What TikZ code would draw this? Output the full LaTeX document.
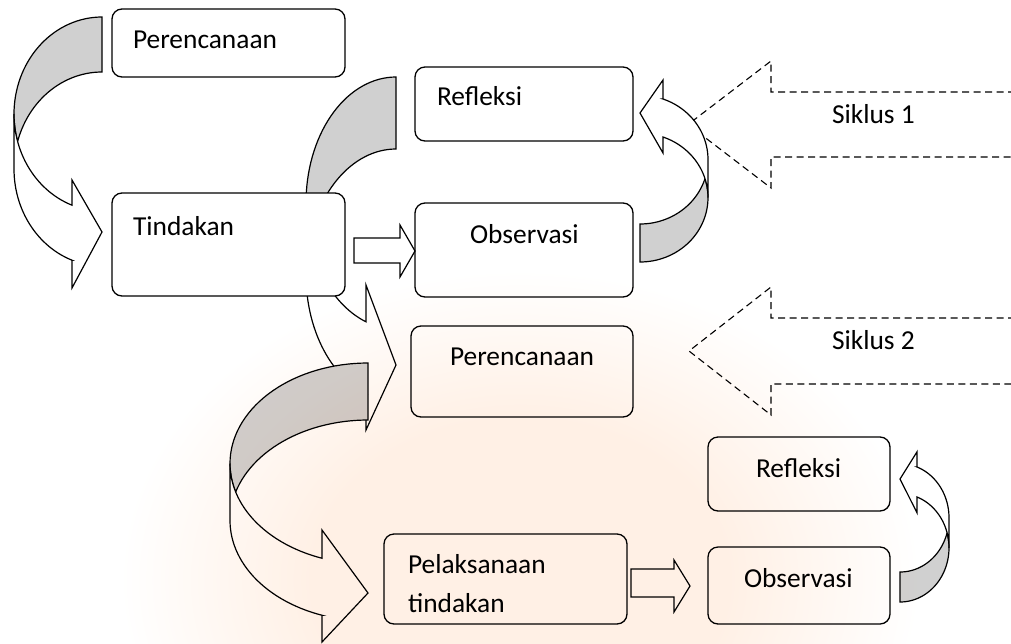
\documentclass[tikz,border=0pt]{standalone}
\usepackage{fontspec}
\setmainfont{Carlito}
\definecolor{backgray}{RGB}{208,208,208}
\definecolor{wmtint}{RGB}{255,240,229}
\pgfdeclareradialshading{wmshade}{\pgfpoint{0bp}{0bp}}{color(0bp)=(wmtint); color(13bp)=(wmtint); color(25bp)=(white); color(50bp)=(white)}
\newcommand{\cvarrow}[8]{%
 \pgfmathsetmacro\cvR{#1}\pgfmathsetmacro\cvH{#2}\pgfmathsetmacro\cvT{#3}\pgfmathsetmacro\cvA{#4}%
 \pgfmathsetmacro\cvP{180-asin(\cvT/(2*\cvH))}%
 \pgfmathsetmacro\cvQ{180+asin(\cvT/(2*\cvH))}%
 \pgfmathsetmacro\cvK{acos(-\cvA/\cvR)}%
 \pgfmathsetmacro\cvY{\cvH*sin(\cvK)}%
 \filldraw[cvline, fill=#8] plot[domain=270:\cvP, samples=40, variable=\t] ({\cvR*cos(\t)},{\cvH*sin(\t)})
   -- plot[domain=\cvQ:270, samples=30, variable=\t] ({\cvR*cos(\t)},{\cvT+\cvH*sin(\t)}) -- cycle;
 \filldraw[cvline, fill=white] plot[domain=180:\cvK, samples=30, variable=\t] ({\cvR*cos(\t)},{\cvH*sin(\t)})
   -- (-\cvA,#5) -- (0,#7) -- (-\cvA,#6) -- (-\cvA,\cvT+\cvY)
   -- plot[domain=\cvK:180, samples=30, variable=\t] ({\cvR*cos(\t)},{\cvT+\cvH*sin(\t)}) -- cycle;
}
\begin{document}
\begin{tikzpicture}[x=1pt,y=-1pt,
  cvline/.style={draw=black, line width=1.2, line join=miter},
  box/.style={draw=black, line width=1.3, rounded corners=10, fill=white, inner sep=0, outer sep=0, anchor=north west},
  txt/.style={font=\fontsize{27.4}{33}\selectfont, inner sep=0, outer sep=0, anchor=base west},
  dasharrow/.style={draw=black, line width=1.1, dash pattern=on 7pt off 4.5pt}]
\useasboundingbox (0,0) rectangle (1011,643);
\clip (0,0) rectangle (1011,643);
\fill[white] (0,0) rectangle (1011,643);

% dashed cycle arrows
\draw[dasharrow] (1015,92) -- (771,92) -- (771,61) -- (688,124.5) -- (771,188) -- (771,157) -- (1015,157);
\draw[dasharrow] (1015,318) -- (771,318) -- (771,287) -- (689,351) -- (771,415) -- (771,384) -- (1015,384);

% curved arrow B (Refleksi -> Perencanaan 2), behind Tindakan
\begin{scope}[shift={(396,203)}]
 \cvarrow{90}{126}{72}{30}{82}{227}{162}{backgray}
\end{scope}
% curved arrow A (Perencanaan -> Tindakan)
\begin{scope}[shift={(102,114)}]
 \cvarrow{88}{97}{55}{30}{66}{174}{118}{backgray}
\end{scope}

% boxes
\node[box, minimum width=233, minimum height=68] (p1) at (112,9) {};
\node[box, minimum width=233, minimum height=103] (t1) at (112,193) {};
\node[box, minimum width=218, minimum height=74] (r1) at (415,67) {};
\node[box, minimum width=218, minimum height=94] (o1) at (415,203) {};
\node[box, minimum width=222, minimum height=91] (p2) at (411,326) {};
\node[box, minimum width=243, minimum height=90] (l2) at (384,534) {};
\node[box, minimum width=182, minimum height=74] (r2) at (708,437) {};
\node[box, minimum width=182, minimum height=77] (o2) at (708,547) {};

% curved arrow D (Perencanaan 2 -> Pelaksanaan)
\begin{scope}[shift={(368,463.5)}]
 \cvarrow{138}{100.5}{57}{46}{66.5}{178.5}{129.5}{backgray}
\end{scope}
% curved arrow C (Observasi -> Refleksi, cycle 1)
\begin{scope}[shift={(640,197.6)}, rotate=180]
 \cvarrow{68}{64.4}{38}{23}{44.6}{117.6}{84.6}{backgray}
\end{scope}
% curved arrow E (Observasi -> Refleksi, cycle 2)
\begin{scope}[shift={(900,547.8)}, rotate=180]
 \cvarrow{49}{54.2}{30}{17}{35}{96}{68.8}{backgray}
\end{scope}

% straight block arrows
\draw[cvline, fill=white] (354,238) -- (400,238) -- (400,225) -- (o1.west |- 0,251) -- (400,277) -- (400,263) -- (354,263) -- cycle;
\draw[cvline, fill=white] (631,569) -- (674,569) -- (674,560) -- (690,586) -- (674,612) -- (674,597) -- (631,597) -- cycle;

% texts
\node[txt] (tp1) at (133,48) {Perencanaan};
\node[txt] (tt1) at (133,235) {Tindakan};
\node[txt] (tr1) at (437,105) {Refleksi};
\node[txt] (to1) at (470,243) {Observasi};
\node[txt] (ts1) at (832,123) {Siklus 1};
\node[txt] (ts2) at (832,349) {Siklus 2};
\node[txt] (tp2) at (450,365) {Perencanaan};
\node[txt] (tl2a) at (408,573) {Pelaksanaan};
\node[txt] (tl2b) at (408,612) {tindakan};
\node[txt] (tr2) at (756,477) {Refleksi};
\node[txt] (to2) at (744,587) {Observasi};

% faint background tint of the page watermark
\begin{scope}[blend mode=multiply]
 \shade[shading=wmshade] (520,580) ellipse [x radius=400, y radius=310];
\end{scope}
\end{tikzpicture}
\end{document}
